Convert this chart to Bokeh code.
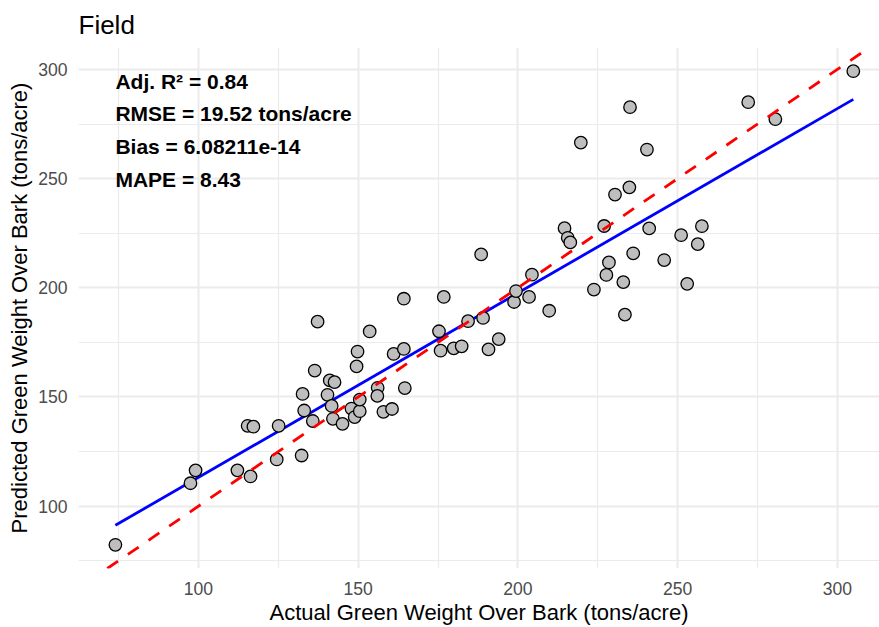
import numpy as np
from bokeh.plotting import figure
from bokeh.models import Range1d, FixedTicker, Slope, Label, ColumnDataSource
from bokeh.embed import file_html
from bokeh.resources import INLINE

# Observed vs predicted green weight over bark (tons/acre), field plots
actual = [
    74.0, 97.5, 99.1, 112.2, 116.3, 115.4, 117.2, 125.1, 124.5, 132.3,
    132.6, 133.1, 135.8, 136.4, 137.3, 140.4, 141.1, 142.6, 141.7, 142.1,
    145.1, 147.9, 148.9, 150.5, 150.5, 149.5, 149.8, 153.6, 156.1, 156.0,
    157.9, 160.6, 161.1, 164.3, 164.6, 164.3, 175.8, 175.3, 176.8, 179.9,
    182.4, 184.4, 189.1, 188.5, 190.8, 194.0, 198.8, 199.4, 203.5, 204.4,
    209.8, 214.6, 215.6, 216.4, 219.7, 223.8, 227.0, 227.7, 228.5, 230.4,
    233.0, 233.5, 234.9, 235.1, 236.1, 240.4, 241.1, 245.8, 251.1, 253.0,
    256.3, 257.6, 272.1, 280.6, 305.0,
]
predicted = [
    82.3, 110.5, 116.4, 116.4, 113.6, 136.8, 136.4, 136.8, 121.4, 123.2,
    151.4, 143.8, 139.0, 162.1, 184.5, 151.0, 157.6, 156.8, 145.9, 140.0,
    137.7, 144.7, 140.8, 143.5, 148.8, 164.0, 170.8, 180.0, 154.2, 150.5,
    143.2, 144.5, 169.7, 172.0, 154.1, 195.0, 171.2, 180.1, 195.8, 172.3,
    173.2, 184.7, 186.2, 215.3, 171.8, 176.5, 193.5, 198.5, 195.8, 206.0,
    189.5, 227.3, 222.9, 220.8, 266.5, 199.2, 228.3, 205.9, 211.6, 242.7,
    202.6, 187.7, 246.0, 282.7, 215.8, 263.3, 227.2, 212.7, 224.1, 201.8,
    220.0, 228.2, 285.0, 277.2, 299.2,
]

stat_lines = [
    "Adj. R\u00b2 = 0.84",
    "RMSE = 19.52 tons/acre",
    "Bias = 6.08211e-14",
    "MAPE = 8.43",
]

major_ticks = [100, 150, 200, 250, 300]
minor_ticks = [75, 125, 175, 225, 275]

x = np.array(actual)
y = np.array(predicted)

# axis limits with 5% padding around the data
x_pad = 0.05 * (x.max() - x.min())
y_pad = 0.05 * (y.max() - y.min())
x_lo = x.min() - x_pad
y_lo, y_hi = y.min() - y_pad, y.max() + y_pad
x_hi = 313.2

FONT = "Liberation Sans"

p = figure(
    width=879, height=627,
    x_range=Range1d(x_lo, x_hi), y_range=Range1d(y_lo, y_hi),
    output_backend="svg", toolbar_location=None,
    min_border_left=78, min_border_right=0,
    min_border_top=47, min_border_bottom=56,
    background_fill_color="white", border_fill_color="white",
)
p.outline_line_color = None

p.title.text = "Field"
p.title.text_font = FONT
p.title.text_font_size = "26px"
p.title.text_font_style = "normal"
p.title.text_color = "black"
p.title.align = "left"
p.title.offset = 0
p.title.standoff = 15

for ax, label in ((p.xaxis[0], "Actual Green Weight Over Bark (tons/acre)"),
                  (p.yaxis[0], "Predicted Green Weight Over Bark (tons/acre)")):
    ax.axis_label = label
    ax.ticker = FixedTicker(ticks=major_ticks, minor_ticks=minor_ticks)
    ax.axis_line_color = None
    ax.major_tick_line_color = None
    ax.minor_tick_line_color = None
    ax.major_tick_out = 0
    ax.major_tick_in = 0
    ax.minor_tick_out = 0
    ax.minor_tick_in = 0
    ax.major_label_text_font = FONT
    ax.major_label_text_font_size = "17.6px"
    ax.major_label_text_color = "#4D4D4D"
    ax.axis_label_text_font = FONT
    ax.axis_label_text_font_size = "22px"
    ax.axis_label_text_font_style = "normal"
    ax.axis_label_text_color = "black"

p.xaxis.major_label_standoff = 13
p.xaxis.axis_label_standoff = 2
p.yaxis.major_label_standoff = 11
p.yaxis.axis_label_standoff = 3

for g in (p.xgrid[0], p.ygrid[0]):
    g.grid_line_color = "#EBEBEB"
    g.grid_line_width = 2
    g.minor_grid_line_color = "#EBEBEB"
    g.minor_grid_line_width = 1.2

# least-squares fit of predicted on actual
slope, intercept = np.polyfit(x, y, 1)
fit_x = np.array([x.min(), x.max()])
p.line(fit_x, intercept + slope * fit_x, line_color="#0000FF", line_width=2.8)

# 1:1 reference line
p.add_layout(Slope(gradient=1, y_intercept=0, line_color="#FF0000",
                   line_width=2.8, line_dash="13 12"))

src = ColumnDataSource(dict(actual=actual, predicted=predicted))
p.scatter("actual", "predicted", source=src, size=12.5,
          fill_color="#BEBEBE", line_color="black", line_width=1.3)

# fit statistics, stacked below the top of the data
for i, txt in enumerate(stat_lines):
    p.add_layout(Label(
        x=x.min(), y=y.max() - 4.6 - 15 * i, text=txt,
        text_font=FONT, text_font_size="21px", text_font_style="bold",
        text_color="black", text_align="left", text_baseline="alphabetic",
    ))

open("out.html", "w").write(file_html(p, INLINE))
